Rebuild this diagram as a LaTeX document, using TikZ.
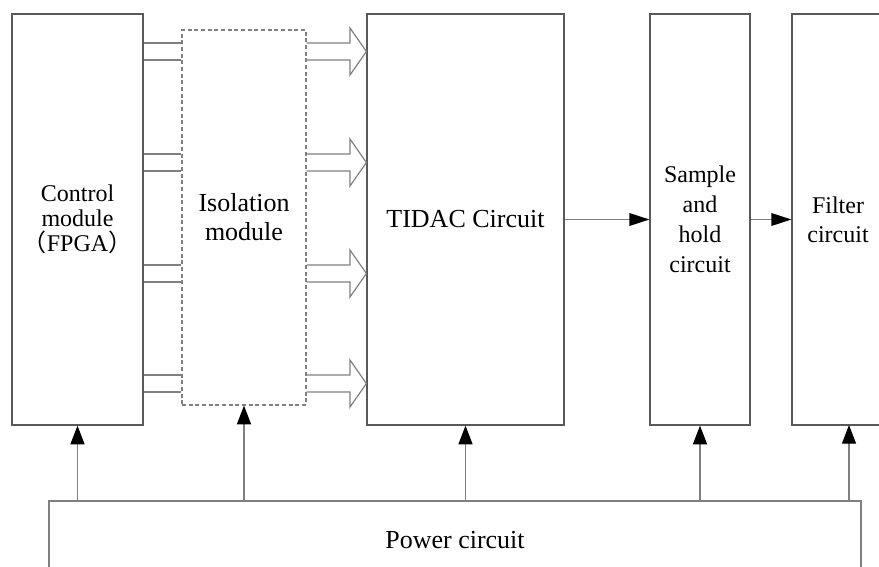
\documentclass[tikz,border=0pt]{standalone}
\usepackage{fontspec}
\setmainfont{Liberation Serif}
\newfontfamily\cjk{Noto Sans CJK SC}
\usetikzlibrary{arrows.meta}

\tikzset{
  block/.style={draw=gray!70!black, line width=0.9pt, inner sep=0pt, align=center},
  link/.style={draw=gray, line width=0.9pt},
  feed/.style={link, -{Triangle[length=14pt, width=10.5pt, color=black]}},
  signal/.style={link, -{Triangle[length=15pt, width=9.5pt, color=black]}},
}

\begin{document}
\begin{tikzpicture}[x=0.75pt, y=-0.75pt]

    \useasboundingbox (0,0) rectangle (879,567);
    \begin{scope}
    \clip (0,0) rectangle (879,567);

    \node[block, minimum width=98.25pt, minimum height=308.25pt,
          font=\fontsize{18}{18.75}\selectfont] (ctrl) at (77.5,219.5)
          {Control\\module\\{\cjk （}FPGA{\cjk ）}};
    \node[block, dash pattern=on 3pt off 2pt, draw=gray, minimum width=93pt, minimum height=281.25pt,
          font=\fontsize{19.5}{21.75}\selectfont] (iso) at (244,217.5)
          {Isolation\\module};
    \node[block, minimum width=147.75pt, minimum height=308.25pt,
          font=\fontsize{19.5}{21.75}\selectfont] (tidac) at (465.5,219.5)
          {TIDAC Circuit};
    \node[block, minimum width=75pt, minimum height=308.25pt,
          font=\fontsize{18}{22.5}\selectfont] (sh) at (700,219.5)
          {Sample\\and\\hold\\circuit};
    \node[block, minimum width=69pt, minimum height=308.25pt,
          font=\fontsize{18}{21.5}\selectfont] (fl) at (838,219.5)
          {Filter\\circuit};
    \node[block, draw=gray, minimum width=609pt, minimum height=58.5pt,
          font=\fontsize{19.5}{21.75}\selectfont] (pw) at (455,540)
          {Power circuit};
    \coordinate (flin) at (849,425);

    % parallel buses through the isolation
    \foreach \y in {51.5,162.5,273.5,383.5} {
        \draw[link] (ctrl.east |- 0,\y-8.5) -- (iso.west |- 0,\y-8.5);
        \draw[link] (ctrl.east |- 0,\y+8.5) -- (iso.west |- 0,\y+8.5);
        \draw[link] (iso.east |- 0,\y-8.5) -- (350,\y-8.5) -- (350,\y-23.5)
            -- (tidac.west |- 0,\y) -- (350,\y+23.5) -- (350,\y+8.5)
            -- (iso.east |- 0,\y+8.5);
    }

    \draw[signal] (tidac.east) -- (sh.west);
    \draw[signal] (sh.east) -- (fl.west);

    % supply
    \draw[feed] (pw.north -| ctrl.south) -- (ctrl.south);
    \draw[feed] (pw.north -| iso.south) -- (iso.south);
    \draw[feed] (pw.north -| tidac.south) -- (tidac.south);
    \draw[feed] (pw.north -| sh.south) -- (sh.south);
    \draw[feed] (pw.north -| flin) -- (flin);

    \end{scope}

\end{tikzpicture}
\end{document}
